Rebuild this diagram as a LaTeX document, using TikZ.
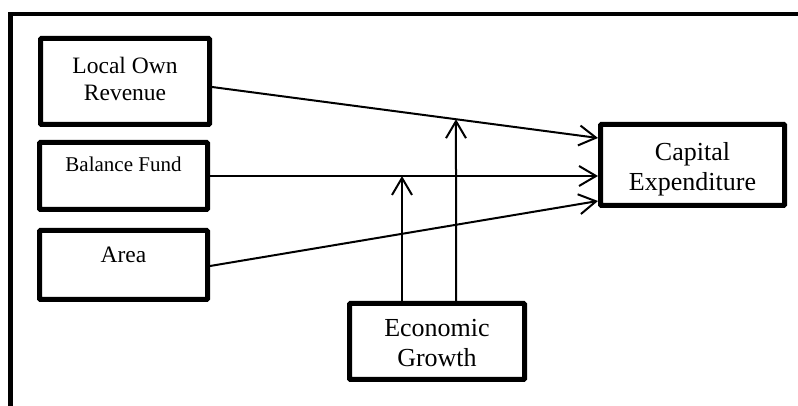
\documentclass[tikz,border=0pt]{standalone}
\usepackage{fontspec}
\setmainfont{Liberation Serif}
\usetikzlibrary{arrows.meta,calc}
\begin{document}
\begin{tikzpicture}[x=1pt,y=1pt,
  box/.style={draw=black,line width=5pt,minimum width=#1,inner sep=0pt,rounded corners=0.8pt},
  txt/.style={align=center,inner sep=0pt},
  arr/.style={line width=2pt,-{Straight Barb[length=17pt,width=20pt]}},
  frame/.style={line width=4.3pt,line join=miter}]
\useasboundingbox (0,0) rectangle (798,406);
\draw[frame] (10.5,0) -- (10.5,392.2) -- (798,392.2);
% boxes
\node[box=169pt,minimum height=86pt] (lor) at (125,324.5) {};
\node[box=168pt,minimum height=67pt] (bf) at (123.5,230) {};
\node[box=168pt,minimum height=69pt] (area) at (123.5,141) {};
\node[box=184pt,minimum height=81pt] (cap) at (692.5,241) {};
\node[box=175pt,minimum height=76pt] (eg) at (437,64.5) {};
% texts
\node[txt,font=\fontsize{23.5}{27}\selectfont] (lort) at (125,327.5) {Local Own\\Revenue};
\node[txt,anchor=base,font=\fontsize{21}{25}\selectfont] (bft) at (123.5,234) {Balance Fund};
\node[txt,anchor=base,font=\fontsize{23.5}{27}\selectfont] (areat) at (123.5,143) {Area};
\node[txt,font=\fontsize{26}{30}\selectfont] (capt) at (692.5,237.1) {Capital\\Expenditure};
\node[txt,font=\fontsize{26}{30}\selectfont] (egt) at (437,62.8) {Economic\\Growth};
% connectors
\coordinate (l1) at ([yshift=-5.5pt]lor.east);
\coordinate (c1) at ([yshift=27pt]cap.west);
\coordinate (c2) at ([yshift=-11pt]cap.west);
\coordinate (a1) at ([yshift=-1pt]area.east);
\coordinate (c3) at ([yshift=-36pt]cap.west);
\draw[arr] (l1) -- (c1);
\draw[arr] (bf.east) -- (c2);
\draw[arr] (a1) -- (c3);
\coordinate (e1) at ([xshift=-35pt]eg.north);
\coordinate (e2) at ([xshift=19pt]eg.north);
\coordinate (e2u) at ([xshift=19pt,yshift=50pt]eg.north);
\draw[arr] (e1) -- (e1 |- bf.east);
\draw[arr] (e2) -- (intersection of l1--c1 and e2--e2u);
\end{tikzpicture}
\end{document}
